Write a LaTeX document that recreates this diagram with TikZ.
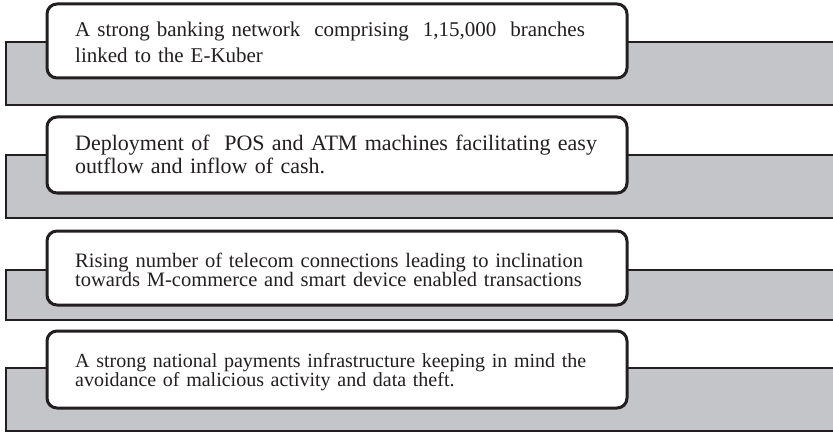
\documentclass[tikz,border=0pt]{standalone}
\usepackage{fontspec}
\setmainfont{Liberation Serif}
\definecolor{panelgray}{HTML}{C4C5C9}
\definecolor{inkline}{HTML}{231F20}
\begin{document}
\begin{tikzpicture}[x=1pt,y=-1pt,
  band/.style={fill=panelgray,draw=inkline,line width=2pt},
  card/.style={draw=inkline,fill=white,line width=3pt,rounded corners=10pt,
    minimum width=580pt,inner sep=0pt},
  cardtext/.style={text width=524pt,inner sep=0pt,align=left,text=inkline,
    anchor=base west}]
\useasboundingbox (0,0) rectangle (833,433);
% grey bands behind the cards
\draw[band] (6,42) rectangle (845,105);
\draw[band] (6,155) rectangle (845,218);
\draw[band] (6,270) rectangle (845,320);
\draw[band] (6,368) rectangle (845,431);
% white cards
\node[card,minimum height=74pt] (c1) at (337,41) {};
\node[card,minimum height=76pt] (c2) at (337,155) {};
\node[card,minimum height=74pt] (c3) at (337,268) {};
\node[card,minimum height=77pt] (c4) at (337,369.5) {};
% card texts, placed on their first baselines
\node[cardtext,font=\fontsize{21}{26}\selectfont] (t1) at (75,37)
  {\makebox[\linewidth][s]{A strong banking network\ \ comprising\ \ 1,15,000\ \ branches}\\linked to the E-Kuber};
\node[cardtext,font=\fontsize{22}{23}\selectfont] (t2) at (75,151)
  {\makebox[\linewidth][s]{Deployment of\ \ POS and ATM machines facilitating easy}\\outflow and inflow of cash.};
\node[cardtext,font=\fontsize{20.5}{19}\selectfont] (t3) at (75,267)
  {\makebox[\linewidth][s]{Rising number of telecom connections leading to inclination}\\towards M-commerce and smart device enabled transactions};
\node[cardtext,font=\fontsize{20}{18}\selectfont] (t4) at (75,367)
  {\makebox[\linewidth][s]{A strong national payments infrastructure keeping in mind the}\\avoidance of malicious activity and data theft.};
\end{tikzpicture}
\end{document}
